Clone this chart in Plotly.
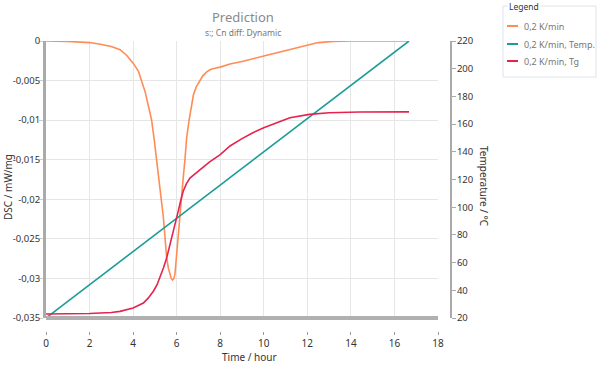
import plotly.graph_objects as go

# ---- data ----
series_names = ["0,2 K/min", "0,2 K/min, Temp.", "0,2 K/min, Tg"]
colors = ["#ff8c55", "#1d9c97", "#e5234f"]

dsc_time = [0, 1, 2, 2.5, 3, 3.4, 3.7, 4.0, 4.24, 4.4, 4.55, 4.7, 4.85, 4.97, 5.08, 5.2, 5.3, 5.39, 5.47,
            5.54, 5.62, 5.69, 5.75, 5.81, 5.87, 5.92, 5.97, 6.03, 6.09, 6.15, 6.23, 6.3, 6.38, 6.46, 6.57,
            6.67, 6.77, 6.9, 7.07, 7.2, 7.38, 7.55, 7.75, 8.0, 8.45, 9.0, 10.0, 11.0, 12.0, 12.5, 13.2,
            14.0, 16.67]
dsc_values = [0, -0.00005, -0.0002, -0.0004, -0.0007, -0.0011, -0.0018, -0.0028, -0.0038, -0.005, -0.0064,
              -0.0082, -0.010, -0.0125, -0.015, -0.0173, -0.020, -0.0223, -0.025,
              -0.0274, -0.0287, -0.0295, -0.0300, -0.0302, -0.0300, -0.0295, -0.0278, -0.0257, -0.0236,
              -0.0215, -0.0193, -0.0173, -0.015, -0.0122, -0.010,
              -0.0083, -0.0068, -0.0058, -0.005, -0.0044, -0.0039, -0.0036, -0.00345, -0.0033, -0.0029,
              -0.0026, -0.0019, -0.0012, -0.0005, -0.0002, -0.00005, 0, 0]

temp_time = [0, 16.67]
temp_values = [20, 220]

tg_time = [0, 1, 2, 3, 3.4, 4.0, 4.47, 4.7, 4.93, 5.1, 5.23, 5.4, 5.54, 5.7, 5.84, 5.95, 6.07, 6.18, 6.3,
           6.45, 6.61, 6.8, 7.07, 7.5, 8.0, 8.45, 9.0, 9.5, 10.0, 10.43, 11.2, 12.1, 13.0, 14.4, 16.67]
tg_values = [22.9, 23.0, 23.3, 24.0, 24.8, 27.2, 30.8, 34.5, 39.3, 44.0, 48.9, 56.5, 63.3, 73.0, 82.6,
             90.0, 97.0, 104.5, 111.5, 117.0, 121.0, 123.5, 127.0, 132.5, 138.0, 144.2, 149.5, 153.8,
             157.3, 159.9, 164.6, 167.0, 168.2, 168.7, 168.8]

x_ticks = [0, 2, 4, 6, 8, 10, 12, 14, 16, 18]
dsc_ticks = [0, -0.005, -0.01, -0.015, -0.02, -0.025, -0.03, -0.035]
dsc_tick_labels = ["0", "-0,005", "-0,01", "-0,015", "-0,02", "-0,025", "-0,03", "-0,035"]
temp_ticks = [20, 40, 60, 80, 100, 120, 140, 160, 180, 200, 220]

FONT = "Noto Sans"
TICK_COLOR = "#333333"

# paper geometry (pixels)
L, R, T, B = 46, 451, 41, 331
PW, PH = R - L, B - T


def px(xp):
    return (xp - L) / PW


def py(yp):
    return (B - yp) / PH


fig = go.Figure()
fig.add_trace(go.Scatter(x=dsc_time, y=dsc_values, name=series_names[0], mode="lines",
                         line=dict(color=colors[0], width=1.6), yaxis="y"))
fig.add_trace(go.Scatter(x=temp_time, y=temp_values, name=series_names[1], mode="lines",
                         line=dict(color=colors[1], width=1.6), yaxis="y2"))
fig.add_trace(go.Scatter(x=tg_time, y=tg_values, name=series_names[2], mode="lines",
                         line=dict(color=colors[2], width=1.6), yaxis="y2"))

fig.update_layout(
    width=600, height=366,
    margin=dict(l=L, r=600 - R, t=T, b=366 - B, autoexpand=False),
    paper_bgcolor="white", plot_bgcolor="white",
    font=dict(family=FONT, size=10, color=TICK_COLOR),
    showlegend=False,
    xaxis=dict(range=[0, 18], tickvals=x_ticks, domain=[0, px(438)],
               anchor="free", position=0, automargin=False,
               showgrid=True, gridcolor="#e6e6e6", gridwidth=1,
               zeroline=False, showline=False,
               ticks="outside", ticklen=3, tickcolor="#999999",
               tickfont=dict(size=10, color=TICK_COLOR)),
    yaxis=dict(range=[-0.035, 0], tickvals=dsc_ticks, ticktext=dsc_tick_labels,
               domain=[py(318), 1], automargin=False,
               showgrid=True, gridcolor="#e6e6e6", gridwidth=1,
               zeroline=False, showline=True, linecolor="#aaaaaa", linewidth=3,
               ticks="outside", ticklen=4, tickcolor="#cccccc", ticklabelstandoff=-3,
               tickfont=dict(size=9.5, color=TICK_COLOR)),
    yaxis2=dict(range=[20, 220], tickvals=temp_ticks, overlaying="y", side="right",
                anchor="free", position=1.0, automargin=False,
                showgrid=False, zeroline=False, showline=True, linecolor="#aaaaaa", linewidth=2,
                ticks="outside", ticklen=4, tickcolor="#aaaaaa", ticklabelstandoff=-1,
                tickfont=dict(size=9.5, color=TICK_COLOR)),
)

# bottom thick axis bar
fig.add_shape(type="line", xref="x domain", yref="y domain", x0=0, x1=1, y0=0, y1=0,
              line=dict(color="#b0b0b0", width=4), layer="above")

# legend frame
fig.add_shape(type="rect", xref="paper", yref="paper",
              x0=px(503), x1=px(596), y0=py(77), y1=py(6),
              line=dict(color="#dce3ea", width=1), fillcolor="rgba(0,0,0,0)")

annotations = [
    dict(text="Prediction", x=px(243), y=py(17), xref="paper", yref="paper",
         xanchor="center", yanchor="middle",
         showarrow=False, font=dict(size=13, color="#8a8a8a", family=FONT)),
    dict(text="s:; Cn diff: Dynamic", x=px(243), y=py(33), xref="paper", yref="paper",
         xanchor="center", yanchor="middle",
         showarrow=False, font=dict(size=8.5, color="#777777", family=FONT)),
    dict(text="Time / hour", x=px(249.5), y=py(357), xref="paper", yref="paper",
         xanchor="center", yanchor="middle",
         showarrow=False, font=dict(size=10, color=TICK_COLOR, family=FONT)),
    dict(text="DSC / mW/mg", x=px(8), y=py(187), xref="paper", yref="paper",
         xanchor="center", yanchor="middle",
         showarrow=False, textangle=-90, font=dict(size=10, color=TICK_COLOR, family=FONT)),
    dict(text="Temperature / °C", x=px(484), y=py(186), xref="paper", yref="paper",
         xanchor="center", yanchor="middle",
         showarrow=False, textangle=90, font=dict(size=10, color=TICK_COLOR, family=FONT)),
    dict(text="Legend", x=px(507), y=py(6), xref="paper", yref="paper",
         xanchor="left", yanchor="middle", showarrow=False, bgcolor="white", borderpad=1,
         font=dict(size=8.5, color="#333333", family=FONT)),
]

# legend entries
legend_rows = [26, 44, 61]
for name, col, row in zip(series_names, colors, legend_rows):
    fig.add_shape(type="line", xref="paper", yref="paper", x0=px(507), x1=px(518),
                  y0=py(row), y1=py(row), line=dict(color=col, width=2))
    annotations.append(dict(text=name, x=px(522), y=py(row), xref="paper", yref="paper",
                            xanchor="left", yanchor="middle", showarrow=False,
                            font=dict(size=9, color="#777777", family=FONT)))

fig.update_layout(annotations=annotations)

fig.write_html("out.html")
